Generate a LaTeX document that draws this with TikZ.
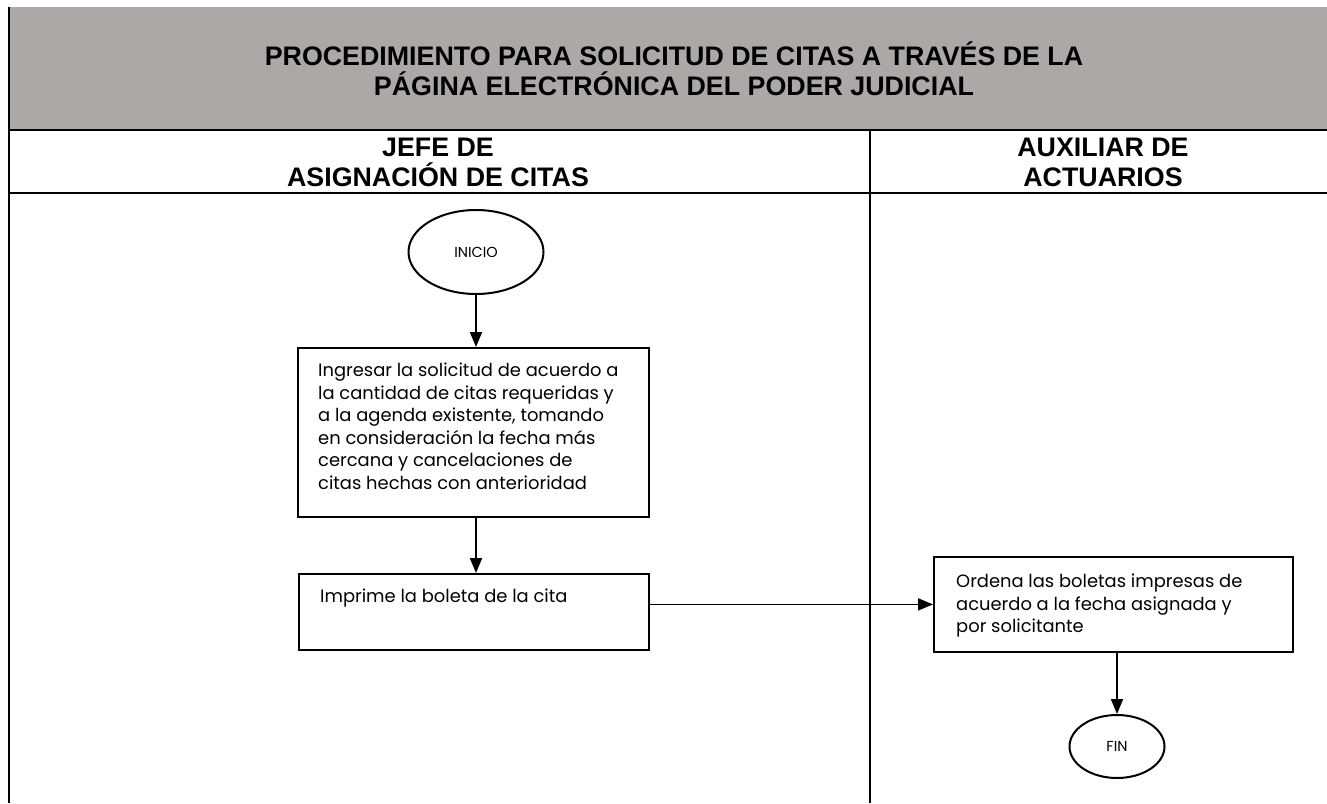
\documentclass[tikz,border=0pt]{standalone}
\usepackage{fontspec}
\setmainfont{Liberation Sans}
\newfontfamily\gothic{Poppins}
\usetikzlibrary{arrows.meta,shapes.geometric}
\definecolor{headgray}{RGB}{171,168,167}

\begin{document}
\begin{tikzpicture}[x=1pt,y=-1pt]
    \tikzset{
        lane/.style={line width=2pt},
        title/.style={font=\fontsize{26.8}{30}\selectfont\bfseries, align=center},
        stepbox/.style={draw, line width=1.8pt, anchor=north west, inner sep=0pt},
        steptext/.style={anchor=north west, inner sep=0pt, align=left,
            font=\gothic\fontsize{17.9}{22.5}\selectfont},
        terminal/.style={draw, ellipse, line width=2pt, inner sep=0pt,
            font=\gothic\fontsize{14.5}{16}\selectfont},
        flow/.style={-{Triangle[length=15pt,width=12pt]}, line width=1.8pt}
    }

    \useasboundingbox (0,0) rectangle (1327,803);
    \fill[headgray] (9,7) rectangle (1327,130);
    \draw[lane] (9,7) -- (9,803);
    \draw[lane] (9,130) -- (1327,130);
    \draw[lane] (9,193) -- (1327,193);
    \draw[line width=1.5pt] (870,130) -- (870,803);

    \node[title] (head) at (674,69)
        {PROCEDIMIENTO PARA SOLICITUD DE CITAS A TRAVÉS DE LA\\PÁGINA ELECTRÓNICA DEL PODER JUDICIAL};
    \node[title] (jefe) at (438,162) {JEFE DE\\ASIGNACIÓN DE CITAS};
    \node[title] (auxiliar) at (1103,162) {AUXILIAR DE\\ACTUARIOS};

    \node[terminal, minimum width=135pt, minimum height=84pt] (inicio) at (476,252) {INICIO};
    \node[stepbox, minimum width=351pt, minimum height=169pt] (ingresar) at (297,347) {};
    \node[steptext] (ingresartxt) at ([shift={(21,16)}] ingresar.north west)
        {Ingresar la solicitud de acuerdo a\\la cantidad de citas requeridas y\\a la agenda existente, tomando\\en consideración la fecha más\\cercana y cancelaciones de\\citas hechas con anterioridad};
    \node[stepbox, minimum width=350pt, minimum height=76pt] (imprime) at (298,573) {};
    \node[steptext] (imprimetxt) at ([shift={(22,16)}] imprime.north west) {Imprime la boleta de la cita};
    \node[stepbox, minimum width=359pt, minimum height=95pt] (ordena) at (933,556) {};
    \node[steptext] (ordenatxt) at ([shift={(23,18)}] ordena.north west)
        {Ordena las boletas impresas de\\acuerdo a la fecha asignada y\\por solicitante};
    \node[terminal, minimum width=95pt, minimum height=63pt] (fin) at (1117,746.5) {FIN};

    \draw[flow] (inicio.south) -- (inicio.south |- ingresar.north);
    \draw[flow] (inicio |- ingresar.south) -- (inicio |- imprime.north);
    \draw[flow] (ordena.west -| imprime.east) -- (ordena.west);
    \draw[flow] (fin |- ordena.south) -- (fin.north);
\end{tikzpicture}
\end{document}
